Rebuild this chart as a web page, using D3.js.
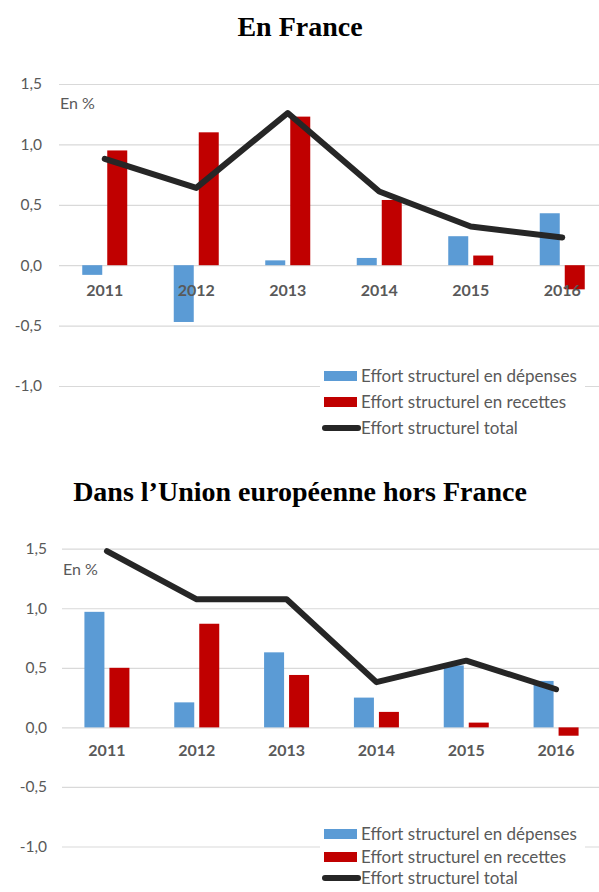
<!DOCTYPE html>
<html><head><meta charset="utf-8">
<script src="https://cdn.jsdelivr.net/npm/d3@7"></script>
<style>body{margin:0;background:#fff}svg{display:block}</style>
</head><body>
<svg id="c" width="599" height="892"></svg>
<script>
const years = ["2011","2012","2013","2014","2015","2016"];
const yTicks = [1.5, 1.0, 0.5, 0.0, -0.5, -1.0];
const seriesNames = ["Effort structurel en dépenses","Effort structurel en recettes","Effort structurel total"];
const titles = ["En France","Dans l\u2019Union européenne hors France"];
const frDepenses = [-0.08, -0.47, 0.04, 0.06, 0.24, 0.43];
const frRecettes = [0.95, 1.10, 1.23, 0.54, 0.08, -0.20];
const frTotal = [0.88, 0.64, 1.26, 0.61, 0.32, 0.23];
const ueDepenses = [0.97, 0.21, 0.63, 0.25, 0.52, 0.39];
const ueRecettes = [0.50, 0.87, 0.44, 0.13, 0.04, -0.07];
const ueTotal = [1.48, 1.075, 1.075, 0.38, 0.56, 0.32];

const svg = d3.select("#c");
const blue = "#5b9bd5", red = "#c00000", dark = "#262626", grey = "#595959";
const axisFont = "Lato, 'Open Sans', sans-serif";

function drawChart(o) {
  const g = svg.append("g");
  g.append("text").attr("x", 300).attr("y", o.titleY).attr("text-anchor","middle")
    .attr("font-family","'Liberation Serif', 'Times New Roman', serif").attr("font-weight","bold")
    .attr("font-size", 28).attr("fill","#000").text(o.title);
  const x = d3.scaleBand().domain(years).range([o.x0, o.x1]);
  const y = d3.scaleLinear().domain([-1, 1.5]).range([o.yBottom, o.yTop]);
  // grid
  const ga = g.append("g").attr("transform", `translate(${o.x0},0)`)
    .call(d3.axisLeft(y).tickValues(yTicks).tickSize(-(599 - o.x0)).tickFormat(d => d3.format(".1f")(d).replace(".", ",").replace("−","-")).tickPadding(o.labelPad));
  ga.select(".domain").remove();
  ga.selectAll(".tick line").attr("stroke","#d9d9d9").attr("stroke-width",1.2);
  ga.selectAll(".tick text").attr("font-family", axisFont).attr("font-size", 15.5).attr("fill", grey);
  g.append("text").attr("x", o.x0 + 1).attr("y", o.enY).attr("dy","0.35em")
    .attr("font-family", axisFont).attr("font-size", 16).attr("fill", grey).text("En %");
  // legend background
  g.append("rect").attr("x", 320).attr("y", o.legY - 12).attr("width", 265).attr("height", 64).attr("fill","#fff");
  const bw = 20, gap = 5;
  const mid = d => x(d) + x.bandwidth() / 2;
  g.selectAll(".bd").data(years).join("rect")
    .attr("x", d => mid(d) - gap/2 - bw).attr("width", bw)
    .attr("y", (d,i) => y(Math.max(0, o.dep[i]))).attr("height", (d,i) => Math.abs(y(o.dep[i]) - y(0)))
    .attr("fill", blue);
  g.selectAll(".br").data(years).join("rect")
    .attr("x", d => mid(d) + gap/2).attr("width", bw)
    .attr("y", (d,i) => y(Math.max(0, o.rec[i]))).attr("height", (d,i) => Math.abs(y(o.rec[i]) - y(0)))
    .attr("fill", red);
  // category labels
  g.selectAll(".cl").data(years).join("text")
    .attr("x", d => mid(d)).attr("y", o.catY).attr("dy","0.35em").attr("text-anchor","middle")
    .attr("font-family", axisFont).attr("font-weight","bold").attr("font-size", 16).attr("fill", grey).text(d => d);
  // line
  const line = d3.line().x((d,i) => mid(years[i])).y(d => y(d));
  g.append("path").attr("d", line(o.tot)).attr("fill","none").attr("stroke", dark)
    .attr("stroke-width", 6).attr("stroke-linejoin","round").attr("stroke-linecap","round");
  // legend
  const lg = g.append("g").attr("font-family", axisFont).attr("font-size", 17).attr("fill", grey);
  const rows = o.rows;
  lg.append("rect").attr("x", 324).attr("y", o.legY + rows[0] - 5).attr("width", 33).attr("height", 10).attr("fill", blue);
  lg.append("rect").attr("x", 324).attr("y", o.legY + rows[1] - 5).attr("width", 33).attr("height", 10).attr("fill", red);
  lg.append("line").attr("x1", 325).attr("x2", 358).attr("y1", o.legY + rows[2]).attr("y2", o.legY + rows[2])
    .attr("stroke", dark).attr("stroke-width", 6).attr("stroke-linecap","round");
  seriesNames.forEach((s, i) => {
    lg.append("text").attr("x", 361).attr("y", o.legY + rows[i]).attr("dy","0.35em").text(s);
  });
}

drawChart({title: titles[0], titleY: 36, x0: 59, x1: 608, yTop: 84, yBottom: 386, labelPad: 17,
  enY: 103, catY: 290, legY: 376, rows: [0, 26, 52], dep: frDepenses, rec: frRecettes, tot: frTotal});
drawChart({title: titles[1], titleY: 501, x0: 62, x1: 601, yTop: 548.7, yBottom: 846.5, labelPad: 15,
  enY: 569, catY: 750, legY: 834, rows: [0, 23, 44], dep: ueDepenses, rec: ueRecettes, tot: ueTotal});
</script>
</body></html>
